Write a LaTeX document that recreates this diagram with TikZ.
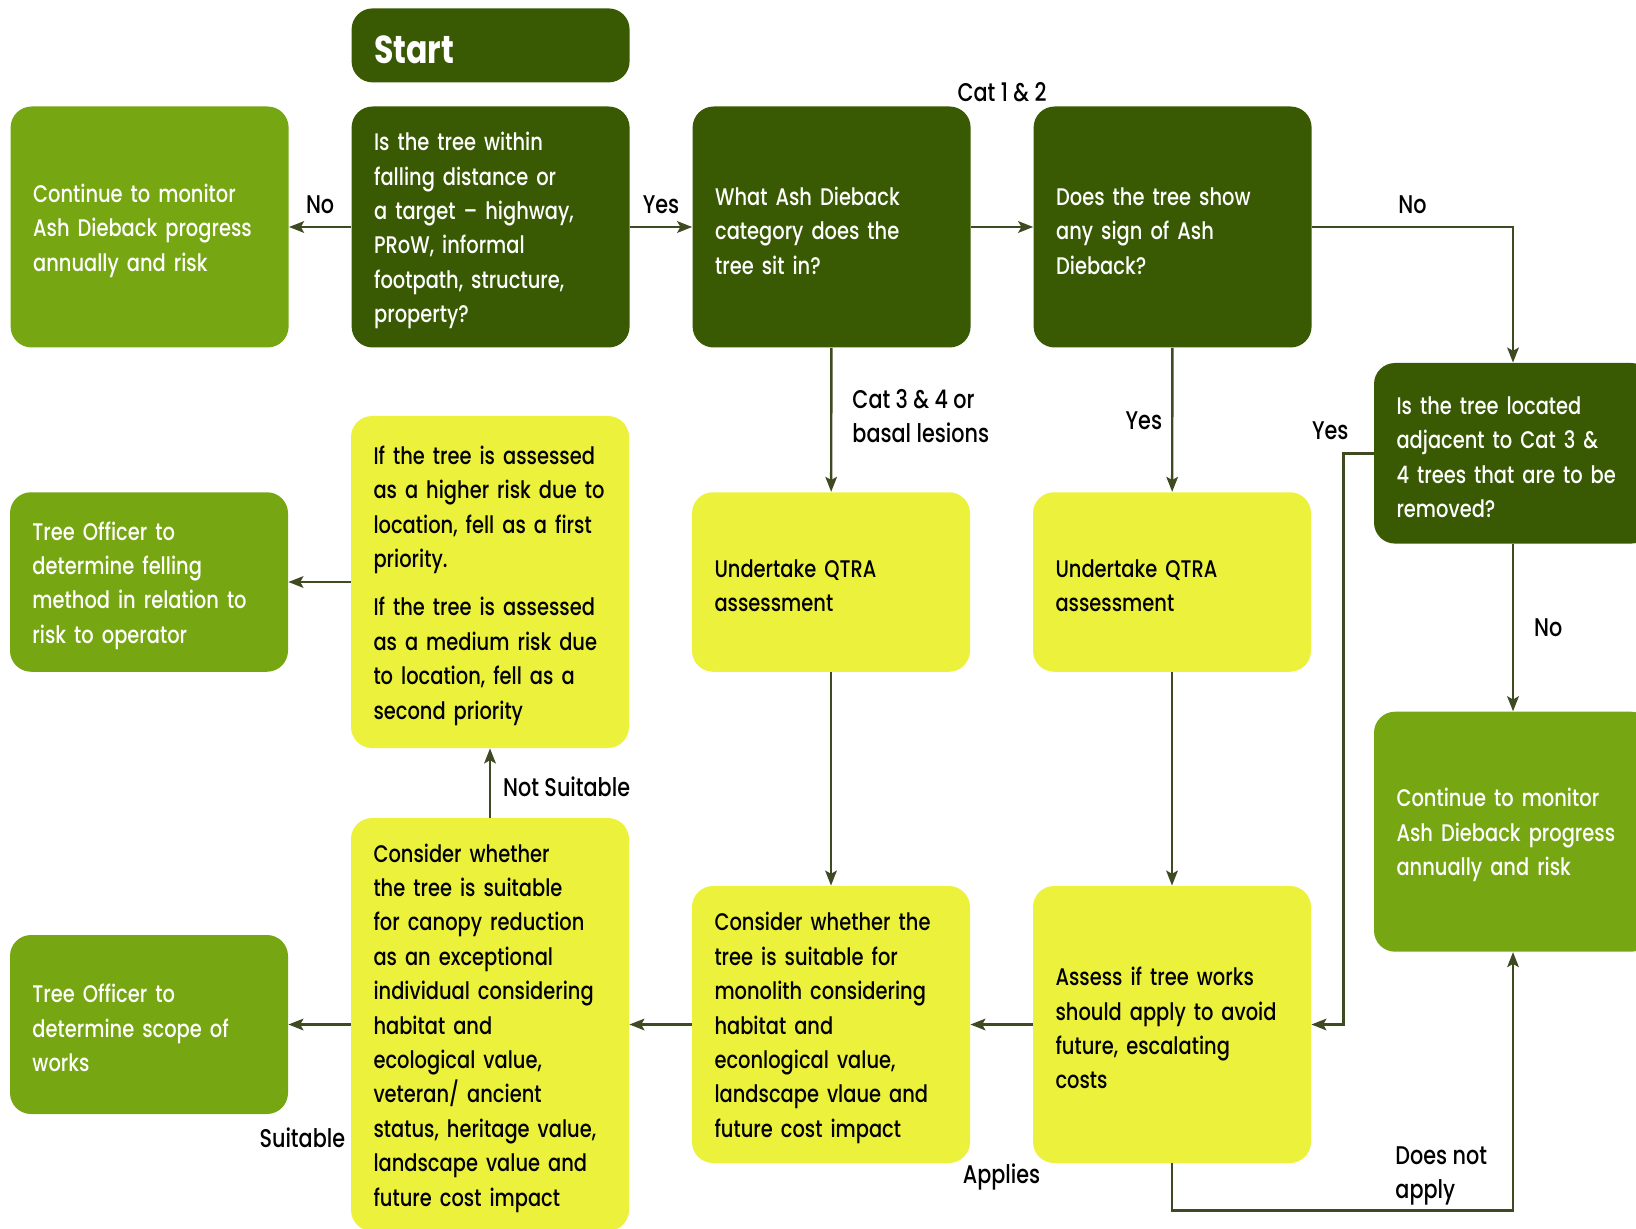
\documentclass[tikz,border=0pt]{standalone}
\usepackage{fontspec}
\setmainfont{Poppins}[UprightFont=* Medium, BoldFont=* Bold, FakeStretch=0.81]
\usepackage{tikz}
\usetikzlibrary{arrows.meta, positioning}

\definecolor{leafdark}{RGB}{57,90,3}
\definecolor{leafmid}{RGB}{118,166,18}
\definecolor{lemon}{RGB}{236,241,60}
\definecolor{stem}{RGB}{62,74,34}

\begin{document}
\begin{tikzpicture}[x=0.5pt, y=-0.5pt]
    \tikzstyle{box} = [rectangle, rounded corners=10.5pt, minimum width=139pt, text width=116.5pt, inner xsep=11.25pt, align=left, font=\fontsize{12}{17.2}\selectfont, text height=12.8pt]
    \tikzstyle{question} = [box, fill=leafdark, text=white]
    \tikzstyle{outcome} = [box, fill=leafmid, text=white]
    \tikzstyle{action} = [box, fill=lemon, text=black]
    \tikzstyle{lbl} = [font=\fontsize{12.8}{17.2}\selectfont, text=black, inner sep=2pt]
    \tikzstyle{arrow} = [-{Stealth[length=7.5pt, width=5.8pt, inset=1.6pt]}, line width=1.2pt, draw=stem]
    \useasboundingbox (0,0) rectangle (1636,1229);
    \node (ask) [question, minimum height=120.5pt] at (490.6,227) {Is the tree within\\falling distance or\\a target – highway,\\PRoW, informal\\footpath, structure,\\property?};
    \node (start) [question, minimum height=37pt, above of=ask, node distance=90.8pt, font=\bfseries\fontsize{19.5}{21}\selectfont, text height=18pt] {Start};
    \node (monitorA) [outcome, minimum height=120.5pt, left of=ask, node distance=170.5pt] {Continue to monitor\\Ash Dieback progress\\annually and risk};
    \node (category) [question, minimum height=120.5pt, right of=ask, node distance=170.5pt] {What Ash Dieback\\category does the\\tree sit in?};
    \node (sign) [question, minimum height=120.5pt, right of=category, node distance=170.5pt] {Does the tree show\\any sign of Ash\\Dieback?};
    \node (adjacent) [question, minimum height=90.3pt] at (1513,453.3) {Is the tree located\\adjacent to Cat 3 \&\\4 trees that are to be\\removed?};
    \node (monitorB) [outcome, minimum height=120pt, below of=adjacent, node distance=189.2pt] {Continue to monitor\\Ash Dieback progress\\annually and risk};
    \node (qtraA) [action, minimum height=89.75pt] at (831,582) {Undertake QTRA\\assessment};
    \node (qtraB) [action, minimum height=89.75pt, right of=qtraA, node distance=170.5pt] {Undertake QTRA\\assessment};
    \node (priority) [action, minimum height=166pt, left of=qtraA, node distance=170.5pt] {If the tree is assessed\\as a higher risk due to\\location, fell as a first\\priority.\\[7pt]If the tree is assessed\\as a medium risk due\\to location, fell as a\\second priority};
    \node (felling) [outcome, minimum height=89.75pt, left of=priority, node distance=170.5pt] {Tree Officer to\\determine felling\\method in relation to\\risk to operator};
    \node (monolith) [action, minimum height=138.5pt, below of=qtraA, node distance=221.25pt] {Consider whether the\\tree is suitable for\\monolith considering\\habitat and\\econlogical value,\\landscape vlaue and\\future cost impact};
    \node (assess) [action, minimum height=138.5pt, right of=monolith, node distance=170.5pt] {Assess if tree works\\should apply to avoid\\future, escalating\\costs};
    \node (canopy) [action, minimum height=206.5pt, left of=monolith, node distance=170.5pt] {Consider whether\\the tree is suitable\\for canopy reduction\\as an exceptional\\individual considering\\habitat and\\ecological value,\\veteran/ ancient\\status, heritage value,\\landscape value and\\future cost impact};
    \node (scope) [outcome, minimum height=89.5pt, left of=canopy, node distance=170.5pt] {Tree Officer to\\determine scope of\\works};
    \draw [arrow] (ask) -- node[lbl, anchor=south, yshift=4pt] {No} (monitorA);
    \draw [arrow] (ask) -- node[lbl, anchor=south, yshift=4pt] {Yes} (category);
    \draw [arrow] (category) -- node[lbl, yshift=67.3pt] {Cat 1 \& 2} (sign);
    \draw [arrow] (sign.east) -| node[lbl, pos=0.25, anchor=south, yshift=4pt] {No} (adjacent.north);
    \draw [arrow] (category) -- node[lbl, anchor=west, align=left, xshift=8pt, yshift=2pt] {Cat 3 \& 4 or\\basal lesions} (qtraA);
    \draw [arrow] (sign) -- node[lbl, anchor=east, xshift=-2.5pt, yshift=-0.5pt] {Yes} (qtraB);
    \draw [arrow] (adjacent.west) -- ++(-15pt,0) node[lbl, anchor=south east, xshift=5pt, yshift=4pt] {Yes} |- (assess.east);
    \draw [arrow] (adjacent) -- node[lbl, anchor=west, xshift=8pt] {No} (monitorB);
    \draw [arrow] (qtraA) -- (monolith);
    \draw [arrow] (qtraB) -- (assess);
    \draw [arrow] (assess) -- node[lbl, yshift=-76.2pt] {Applies} (monolith);
    \draw [arrow] (monolith) -- (canopy);
    \draw [arrow] (canopy) -- node[lbl, xshift=-8.6pt, yshift=-56.4pt] {Suitable} (scope);
    \draw [arrow] (canopy) -- node[lbl, anchor=west, xshift=4pt, yshift=-2pt] {Not Suitable} (priority);
    \draw [arrow] (priority) -- (felling);
    \draw [arrow] (assess.south) -- ++(0,-23.5pt) -| node[lbl, pos=0.32, anchor=south west, align=left] {Does not\\apply} (monitorB.south);
\end{tikzpicture}
\end{document}
